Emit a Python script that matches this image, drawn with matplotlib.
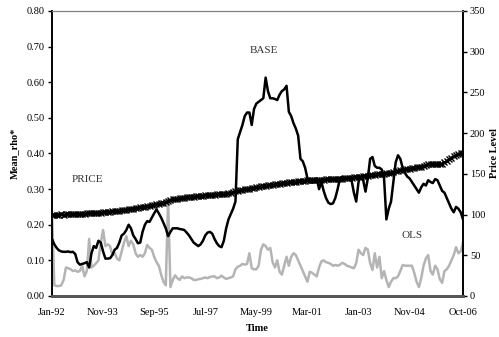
import numpy as np
import matplotlib
matplotlib.use("Agg")
import matplotlib.pyplot as plt

plt.rcParams["font.family"] = ["Liberation Serif", "DejaVu Serif"]

# monthly observations, Jan-92 .. Oct-06
months = np.arange(178)
tick_pos = [0, 22, 44, 66, 88, 110, 132, 154, 177]
tick_labels = ["Jan-92", "Nov-93", "Sep-95", "Jul-97", "May-99",
               "Mar-01", "Jan-03", "Nov-04", "Oct-06"]

base = [
    0.16, 0.145, 0.135, 0.128, 0.125, 0.124, 0.124, 0.125, 0.123, 0.124,
    0.118, 0.095, 0.088, 0.09, 0.092, 0.095, 0.08, 0.12, 0.14, 0.135,
    0.155, 0.15, 0.125, 0.105, 0.105, 0.106, 0.115, 0.13, 0.135, 0.15,
    0.17, 0.175, 0.185, 0.2, 0.19, 0.17, 0.16, 0.148, 0.15, 0.18,
    0.2, 0.21, 0.208, 0.22, 0.232, 0.243, 0.232, 0.22, 0.205, 0.19,
    0.168, 0.18, 0.19, 0.19, 0.19, 0.188, 0.187, 0.185, 0.178, 0.17,
    0.16, 0.15, 0.145, 0.14, 0.145, 0.155, 0.17, 0.178, 0.18, 0.175,
    0.16, 0.148, 0.14, 0.137, 0.155, 0.19, 0.215, 0.23, 0.245, 0.265,
    0.44, 0.46, 0.48, 0.505, 0.515, 0.515, 0.48, 0.525, 0.54, 0.545,
    0.55, 0.555, 0.613, 0.575, 0.555, 0.555, 0.553, 0.55, 0.565, 0.575,
    0.58, 0.59, 0.517, 0.505, 0.485, 0.47, 0.45, 0.385, 0.378, 0.36,
    0.33, 0.32, 0.318, 0.32, 0.33, 0.3, 0.32, 0.295, 0.275, 0.262,
    0.258, 0.26, 0.275, 0.3, 0.33, 0.335, 0.33, 0.33, 0.333, 0.325,
    0.29, 0.265, 0.32, 0.335, 0.325, 0.293, 0.33, 0.385, 0.39, 0.365,
    0.36, 0.36, 0.355, 0.33, 0.215, 0.245, 0.265, 0.32, 0.375, 0.395,
    0.385, 0.36, 0.345, 0.335, 0.33, 0.32, 0.31, 0.3, 0.29, 0.305,
    0.315, 0.31, 0.325, 0.32, 0.317, 0.328, 0.325, 0.31, 0.295, 0.29,
    0.275, 0.26, 0.245, 0.235, 0.25, 0.245, 0.235, 0.215,
]

ols = [
    0.235, 0.03, 0.028, 0.028, 0.03, 0.045, 0.08, 0.078, 0.075, 0.07,
    0.072, 0.068, 0.07, 0.085, 0.055, 0.07, 0.16, 0.08, 0.085, 0.092,
    0.1, 0.15, 0.185, 0.14, 0.145, 0.14, 0.115, 0.12, 0.105, 0.1,
    0.125, 0.15, 0.168, 0.14, 0.155, 0.145, 0.12, 0.11, 0.115, 0.11,
    0.12, 0.143, 0.135, 0.13, 0.11, 0.095, 0.085, 0.06, 0.04, 0.03,
    0.27, 0.025, 0.045, 0.058, 0.05, 0.045, 0.055, 0.05, 0.052, 0.052,
    0.05, 0.045, 0.045, 0.047, 0.048, 0.05, 0.052, 0.05, 0.053, 0.055,
    0.055, 0.05, 0.052, 0.057, 0.052, 0.048, 0.05, 0.052, 0.055, 0.075,
    0.082, 0.085, 0.09, 0.088, 0.09, 0.12, 0.078, 0.075, 0.075, 0.085,
    0.13, 0.145, 0.14, 0.13, 0.135, 0.095, 0.08, 0.1, 0.068, 0.06,
    0.085, 0.11, 0.085, 0.11, 0.12, 0.115, 0.1, 0.085, 0.07, 0.055,
    0.04, 0.068, 0.065, 0.06, 0.055, 0.08, 0.097, 0.1, 0.095, 0.093,
    0.09, 0.085, 0.087, 0.085, 0.088, 0.093, 0.09, 0.085, 0.083, 0.08,
    0.078, 0.092, 0.13, 0.12, 0.115, 0.135, 0.13, 0.092, 0.073, 0.12,
    0.08, 0.11, 0.05, 0.07, 0.045, 0.025, 0.04, 0.05, 0.05, 0.055,
    0.07, 0.087, 0.085, 0.085, 0.085, 0.085, 0.065, 0.04, 0.025, 0.05,
    0.085, 0.105, 0.115, 0.07, 0.06, 0.085, 0.075, 0.047, 0.037, 0.07,
    0.075, 0.085, 0.1, 0.115, 0.137, 0.12, 0.125, 0.15,
]

price = [
    100, 99.5, 99.8, 100, 100.2, 100, 100.3, 100.5, 100.4, 100.6,
    100.8, 100.7, 101, 101.2, 101, 101.4, 101.6, 101.5, 101.9, 102.1,
    102.3, 102.5, 102.8, 103, 103.2, 103.5, 103.9, 104.2, 104.5, 104.8,
    105.2, 105.6, 106, 106.5, 107, 107.4, 107.9, 108.3, 108.7, 109.2,
    109.8, 110.3, 110.9, 111.5, 112, 112.4, 113, 113.6, 114.2, 115,
    117, 118.2, 118.8, 119, 119.4, 119.8, 120.2, 120.6, 121, 121.4,
    121.8, 122.1, 122.4, 122.7, 123, 123.3, 123.6, 123.9, 124.2, 124.4,
    124.6, 124.8, 124.7, 125, 125.3, 125.6, 126.2, 126.8, 127.5, 128.5,
    129.5, 130, 130.5, 131, 131.5, 132, 132.5, 133, 133.5, 134,
    134.5, 135, 135.4, 135.8, 136.2, 136.6, 137, 137.4, 137.8, 138.2,
    138.6, 139, 139.4, 139.8, 140.1, 140.4, 140.8, 141.1, 141.4, 141.7,
    142, 142.2, 142.3, 142.4, 142.6, 142.7, 142.8, 143, 143.1, 143.2,
    143.3, 143.5, 143.6, 143.8, 144, 144.2, 144.5, 144.7, 145, 145.3,
    145.6, 146, 146.3, 146.7, 147, 147.4, 147.8, 148.1, 148.5, 148.9,
    149.2, 149.6, 150, 150.3, 150.7, 151, 151.6, 152.2, 152.9, 153.6,
    154.3, 155, 155.5, 156, 156.5, 157, 157.5, 158, 158.5, 159,
    159.5, 160.5, 161.5, 162.5, 162.3, 162.5, 162, 161.5, 162, 164,
    165.5, 168, 170, 172, 173, 174.5, 175.5, 176,
]

fig = plt.figure(figsize=(4.99, 3.37), dpi=100)
ax = fig.add_axes([0.1042, 0.1217, 0.8237, 0.8457])
ax2 = ax.twinx()

ax.plot(months, ols, color="#b4b4b4", lw=1.8, zorder=2)
ax.plot(months, base, color="black", lw=1.8, zorder=3)
ax2.plot(months, price, color="black", lw=1.5, marker="x", ms=4, mew=1.0)

ax.set_xlim(0, 177)
ax.set_ylim(0, 0.8)
ax2.set_ylim(0, 350)
ax.set_yticks(np.arange(0, 0.81, 0.1))
ax.set_yticklabels([f"{v:.2f}" for v in np.arange(0, 0.81, 0.1)])
ax2.set_yticks(np.arange(0, 351, 50))
ax.set_xticks(tick_pos)
ax.set_xticklabels(tick_labels)

ax.tick_params(axis="y", labelsize=7.5, length=3, width=1, direction="out", pad=2)
ax2.tick_params(axis="y", labelsize=7.5, length=3, width=1, direction="out", pad=2)
ax.tick_params(axis="x", labelsize=7.5, length=0, pad=9)

for a in (ax, ax2):
    a.spines["top"].set_color("#808080")
    a.spines["top"].set_linewidth(0.8)
    a.spines["left"].set_linewidth(1.2)
    a.spines["right"].set_linewidth(1.2)
    a.spines["bottom"].set_color("#555555")
    a.spines["bottom"].set_linewidth(2)

ax.set_ylabel("Mean_rho*", fontsize=7.5, fontweight="bold", labelpad=6)
ax2.set_ylabel("Price Level", fontsize=7.5, fontweight="bold", labelpad=3)
ax.set_xlabel("Time", fontsize=7.5, fontweight="bold", labelpad=5)

# series labels inside the plot area
ax.text(8.6, 0.326, "PRICE", fontsize=8, color="#333333", va="center")
ax.text(85.3, 0.688, "BASE", fontsize=8, color="#333333", va="center")
ax.text(150.7, 0.171, "OLS", fontsize=8, color="#333333", va="center")

fig.savefig("out.png", dpi=100)
